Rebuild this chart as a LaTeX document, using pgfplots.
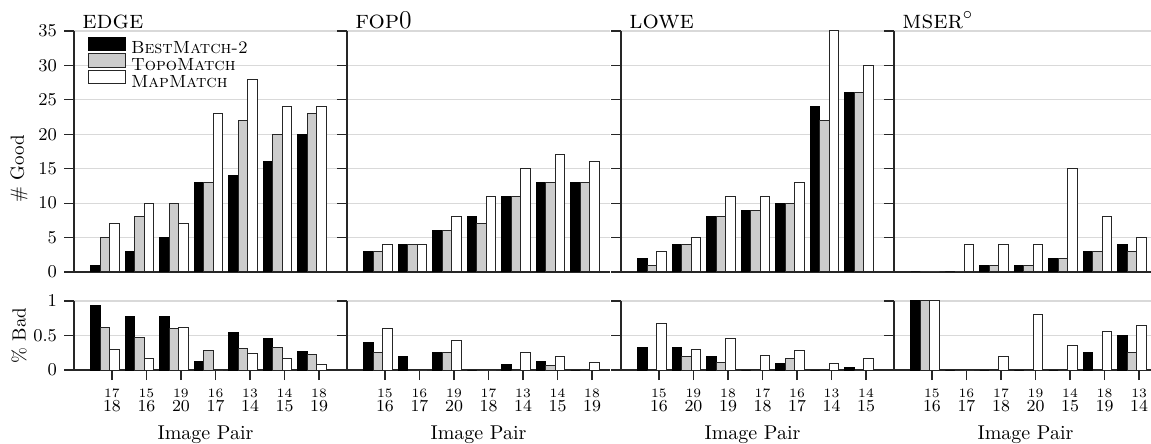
\documentclass[border=0pt]{standalone}
\usepackage{pgfplots}
\pgfplotsset{compat=1.18}
\usepackage{pgfplotstable}

\pgfplotstableread{
x gb gt gm bb bt bm
1 1 5 7 0.93 0.62 0.30
2 3 8 10 0.77 0.47 0.17
3 5 10 7 0.77 0.60 0.61
4 13 13 23 0.13 0.28 0
5 14 22 28 0.55 0.31 0.24
6 16 20 24 0.45 0.33 0.17
7 20 23 24 0.27 0.23 0.08
}\edgetab

\pgfplotstableread{
x gb gt gm bb bt bm
1 3 3 4 0.40 0.25 0.60
2 4 4 4 0.20 0 0
3 6 6 8 0.25 0.25 0.43
4 8 7 11 0 0 0
5 11 11 15 0.08 0 0.25
6 13 13 17 0.13 0.07 0.19
7 13 13 16 0 0 0.11
}\foptab

\pgfplotstableread{
x gb gt gm bb bt bm
1 2 1 3 0.33 0 0.67
2 4 4 5 0.33 0.20 0.29
3 8 8 11 0.20 0.11 0.45
4 9 9 11 0 0 0.21
5 10 10 13 0.09 0.17 0.28
6 24 22 35 0 0 0.10
7 26 26 30 0.04 0 0.17
}\lowetab

\pgfplotstableread{
x gb gt gm bb bt bm
1 0 0 0 1 1 1
2 0 0 4 0 0 0
3 1 1 4 0 0 0.2
4 1 1 4 0 0 0.8
5 2 2 15 0 0 0.35
6 3 3 8 0.25 0 0.56
7 4 3 5 0.5 0.25 0.64
}\msertab

\newcommand{\pr}[2]{\makebox[0pt]{\raisebox{6.8pt}{\fontsize{6.4}{6.4}\selectfont #1}}\makebox[0pt]{\fontsize{8.4}{9}\selectfont #2}}

\pgfplotsset{
  panel/.style={scale only axis, width=131.5pt, xmin=-0.1, xmax=7.52,
    axis x line*=bottom, axis y line*=left, axis line style={-, black!85, line width=0.6pt},
    ymajorgrids, grid style={gray!30, line width=0.6pt},
    tick align=outside, major tick length=5pt, tick style={black!85, line width=0.6pt},
    yticklabel style={font=\fontsize{9}{9}\selectfont},
    clip=false,
    title style={at={(0,1)}, anchor=base west, inner sep=0pt, xshift=4pt, yshift=-4.6pt, font=\fontsize{12.8}{13}\selectfont},
    every axis y label/.style={at={([xshift=-27.5pt]axis description cs:0,0.5)}, rotate=90, anchor=center, font=\fontsize{9.5}{10}\selectfont},
    every axis x label/.style={at={(axis description cs:0.5,0)}, anchor=base, yshift=-34.5pt, font=\fontsize{10}{12}\selectfont},
  },
  toppanel/.style={panel, height=120.5pt, ymin=0, ymax=35, ytick={0,5,...,35}, xtick=\empty, anchor=south west},
  botpanel/.style={panel, height=34.5pt, ymin=0, ymax=1, ytick={0,0.5,1}, xtick={1,...,7},
    xticklabel style={anchor=base, inner sep=0pt, yshift=-15.5pt}, anchor=north west, xlabel={Image Pair}},
  nolab/.style={yticklabels={,,}},
  boxlegend/.style={legend image code/.code={\draw[##1] (0pt,-1.35pt) rectangle (18.5pt,5.35pt);}},
  sb/.style={ybar, bar width=0.275, bar shift=0pt, fill=black, draw=black, line width=0.5pt, boxlegend},
  st/.style={ybar, bar width=0.275, bar shift=0pt, fill=gray!40, draw=black!85, line width=0.5pt, boxlegend},
  sm/.style={ybar, bar width=0.275, bar shift=0pt, fill=white, draw=black!85, line width=0.5pt, boxlegend},
}

\begin{document}
\begin{tikzpicture}
% ---------------- EDGE ----------------
\begin{axis}[toppanel, at={(37pt,0pt)}, title={\textsc{edge}}, ylabel={\# Good},
  every axis y label/.append style={at={([xshift=-27.5pt]axis description cs:0,0.43)}},
  legend style={draw=none, fill=none, at={(0,1)}, anchor=north west, xshift=7pt, yshift=-2.85pt,
    inner sep=0pt, outer sep=0pt, row sep=-0.3pt, column sep=2.5pt,
    nodes={inner sep=0pt, text height=6pt, text depth=0pt},
    font=\fontsize{8.8}{10}\selectfont},
  legend cell align=left]
\addplot[sb] table[x expr=\thisrow{x}-0.475, y=gb]{\edgetab};
\addlegendentry{\textsc{BestMatch-2}}
\addplot[st] table[x expr=\thisrow{x}-0.2, y=gt]{\edgetab};
\addlegendentry{\textsc{TopoMatch}}
\addplot[sm] table[x expr=\thisrow{x}+0.075, y=gm]{\edgetab};
\addlegendentry{\textsc{MapMatch}}
\end{axis}
\begin{axis}[botpanel, at={(37pt,-14.5pt)}, ylabel={\% Bad},
  xticklabels={\pr{17}{18},\pr{15}{16},\pr{19}{20},\pr{16}{17},\pr{13}{14},\pr{14}{15},\pr{18}{19}}]
\addplot[sb] table[x expr=\thisrow{x}-0.475, y=bb]{\edgetab};
\addplot[st] table[x expr=\thisrow{x}-0.2, y=bt]{\edgetab};
\addplot[sm] table[x expr=\thisrow{x}+0.075, y=bm]{\edgetab};
\end{axis}
% ---------------- FOP0 ----------------
\begin{axis}[toppanel, nolab, at={(173.5pt,0pt)}, title={\textsc{fop}0}]
\addplot[sb] table[x expr=\thisrow{x}-0.475, y=gb]{\foptab};
\addplot[st] table[x expr=\thisrow{x}-0.2, y=gt]{\foptab};
\addplot[sm] table[x expr=\thisrow{x}+0.075, y=gm]{\foptab};
\end{axis}
\begin{axis}[botpanel, nolab, at={(173.5pt,-14.5pt)},
  xticklabels={\pr{15}{16},\pr{16}{17},\pr{19}{20},\pr{17}{18},\pr{13}{14},\pr{14}{15},\pr{18}{19}}]
\addplot[sb] table[x expr=\thisrow{x}-0.475, y=bb]{\foptab};
\addplot[st] table[x expr=\thisrow{x}-0.2, y=bt]{\foptab};
\addplot[sm] table[x expr=\thisrow{x}+0.075, y=bm]{\foptab};
\end{axis}
% ---------------- LOWE ----------------
\begin{axis}[toppanel, nolab, at={(310.5pt,0pt)}, title={\textsc{lowe}}]
\addplot[sb] table[x expr=\thisrow{x}-0.475, y=gb]{\lowetab};
\addplot[st] table[x expr=\thisrow{x}-0.2, y=gt]{\lowetab};
\addplot[sm] table[x expr=\thisrow{x}+0.075, y=gm]{\lowetab};
\end{axis}
\begin{axis}[botpanel, nolab, at={(310.5pt,-14.5pt)},
  xticklabels={\pr{15}{16},\pr{19}{20},\pr{18}{19},\pr{17}{18},\pr{16}{17},\pr{13}{14},\pr{14}{15}}]
\addplot[sb] table[x expr=\thisrow{x}-0.475, y=bb]{\lowetab};
\addplot[st] table[x expr=\thisrow{x}-0.2, y=bt]{\lowetab};
\addplot[sm] table[x expr=\thisrow{x}+0.075, y=bm]{\lowetab};
\end{axis}
% ---------------- MSER ----------------
\begin{axis}[toppanel, nolab, at={(447pt,0pt)}, title={\textsc{mser}$^\circ$}]
\addplot[sb] table[x expr=\thisrow{x}-0.475, y=gb]{\msertab};
\addplot[st] table[x expr=\thisrow{x}-0.2, y=gt]{\msertab};
\addplot[sm] table[x expr=\thisrow{x}+0.075, y=gm]{\msertab};
\end{axis}
\begin{axis}[botpanel, nolab, at={(447pt,-14.5pt)},
  xticklabels={\pr{15}{16},\pr{16}{17},\pr{17}{18},\pr{19}{20},\pr{14}{15},\pr{18}{19},\pr{13}{14}}]
\addplot[sb] table[x expr=\thisrow{x}-0.475, y=bb]{\msertab};
\addplot[st] table[x expr=\thisrow{x}-0.2, y=bt]{\msertab};
\addplot[sm] table[x expr=\thisrow{x}+0.075, y=bm]{\msertab};
\end{axis}
\pgfresetboundingbox
\path[use as bounding box] (0pt,-86pt) rectangle (575.5pt,136pt);
\end{tikzpicture}
\end{document}
